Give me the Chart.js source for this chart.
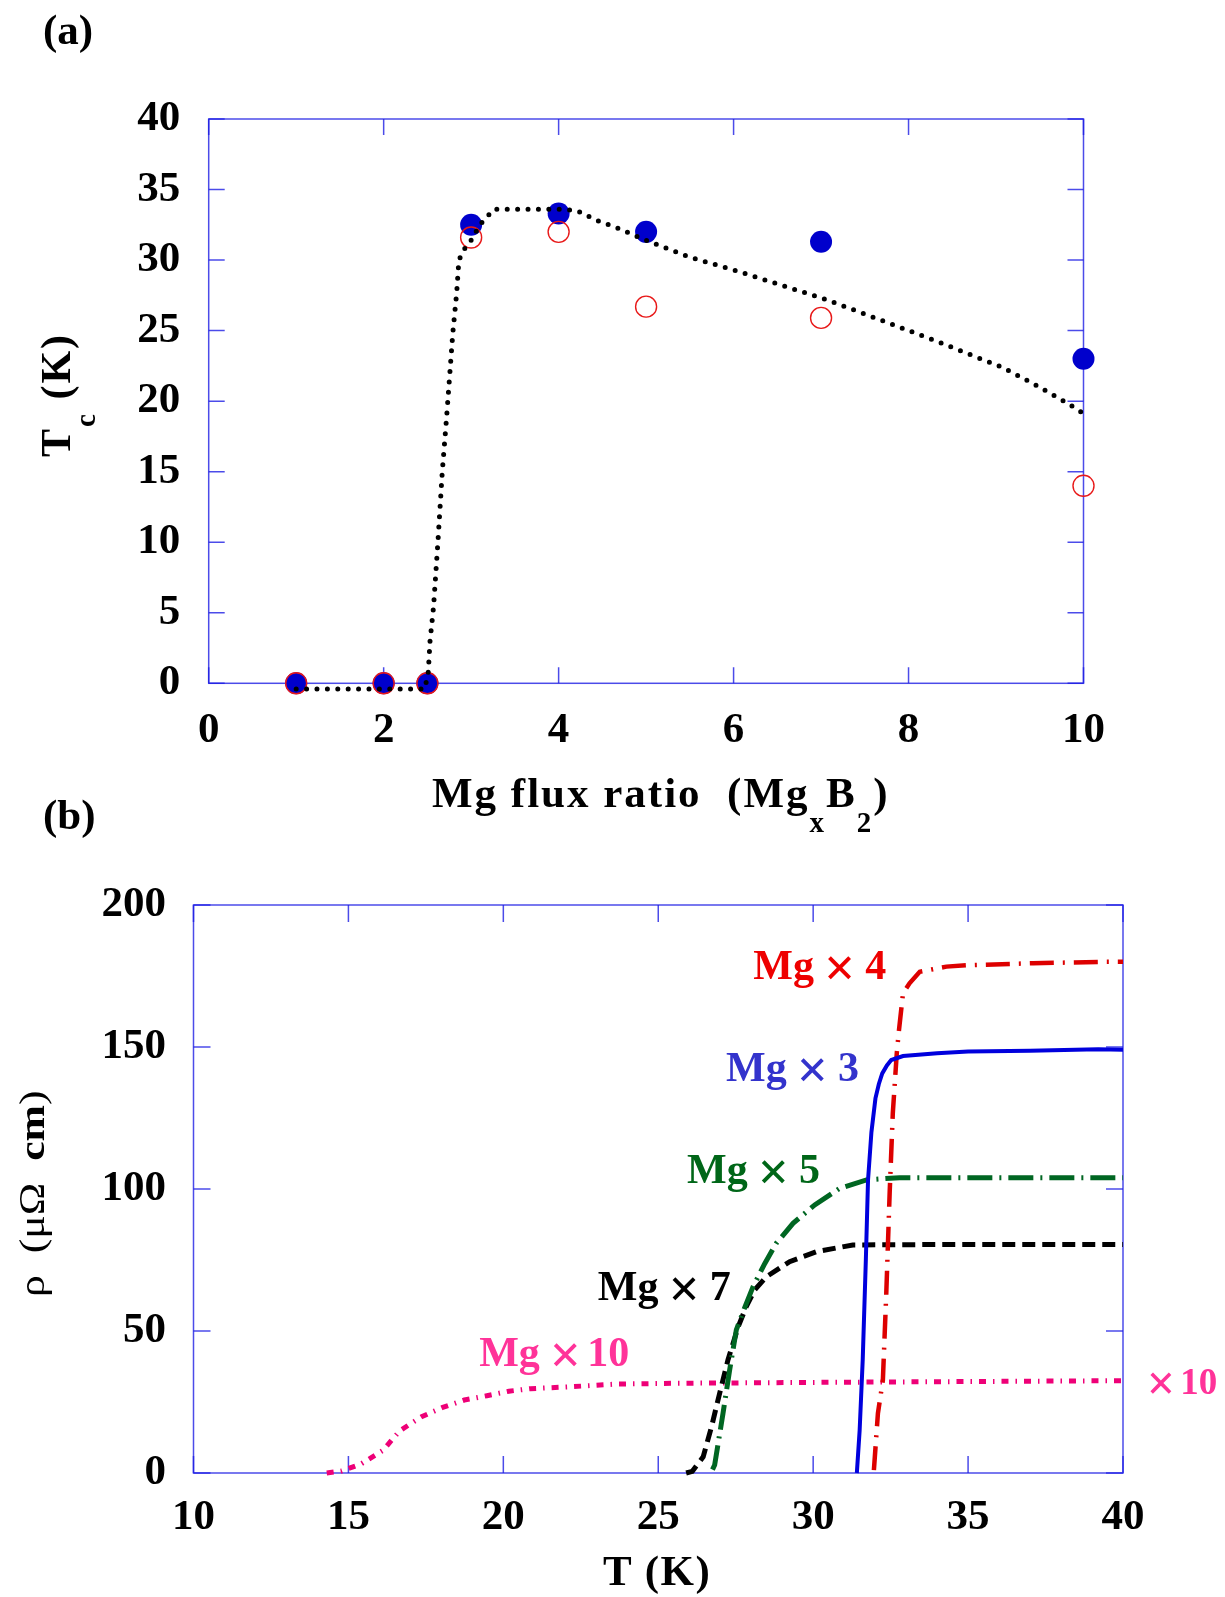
<!DOCTYPE html>
<html>
<head>
<meta charset="utf-8">
<title>MgB2: Tc vs Mg flux ratio, resistivity vs T</title>
<script src="https://cdn.jsdelivr.net/npm/chart.js@4.4.1/dist/chart.umd.min.js"></script>
<style>
  body { margin: 0; background: #fff; }
  #page { position: relative; width: 1225px; height: 1597px; overflow: hidden; font-family: "Liberation Serif", "Times New Roman", serif; color: #000; }
  canvas { position: absolute; left: 0; }
  #tcChart { top: 0; }
  #rhoChart { top: 840px; }
  .txt { position: absolute; white-space: pre; line-height: 1; font-weight: bold; }
  .rot { transform-origin: 0 0; }
  sub { font-size: 29px; vertical-align: -25px; line-height: 1; }
</style>
</head>
<body>
<div id="page">
  <canvas id="tcChart" width="1225" height="840"></canvas>
  <canvas id="rhoChart" width="1225" height="757"></canvas>

  <div class="txt" style="left:43px;top:8px;font-size:43px">(a)</div>
  <div class="txt" style="left:43px;top:793px;font-size:43px">(b)</div>

  <div class="txt" style="left:432px;top:771px;font-size:43px;letter-spacing:2px">Mg flux ratio  (Mg<sub>x</sub>B<sub>2</sub>)</div>
  <div class="txt rot" style="left:35px;top:457px;font-size:42px;letter-spacing:2px;transform:rotate(-90deg)">T<sub>c</sub> (K)</div>

  <div class="txt" style="left:603px;top:1549px;font-size:43px;letter-spacing:1.5px">T (K)</div>
  <div class="txt rot" style="left:15px;top:1297px;font-size:35px;font-weight:normal;transform:rotate(-90deg) scaleX(1.25)">ρ  (μΩ  <b>cm</b>)</div>
</div>

<script>
Chart.defaults.font.family = '"Liberation Serif", "Times New Roman", serif';
Chart.defaults.color = '#000';

// ---- panel (a): Tc against Mg flux ratio ----
const fluxRatio = [1, 2, 2.5, 3, 4, 5, 7, 10];
const tcOnset = [0, 0, 0, 32.5, 33.3, 32.0, 31.3, 23.0];
const tcZero = [0, 0, 0, 31.6, 32.0, 26.7, 25.9, 14.0];
// dotted guide to the eye
const guideRatio = [1, 2.47, 2.51, 2.53, 2.57, 2.62, 2.67, 2.72, 2.79, 2.835, 2.86, 2.925, 2.99, 3.1, 3.26,
  4.03, 4.21, 4.44, 4.66, 5.0, 5.5, 6.0, 7.06, 8.3, 9.07, 9.41, 9.83, 10.03];
const guideTc = [-0.4, -0.4, 0.8, 3, 5.4, 10, 15, 18.9, 24.8, 27.7, 30.0, 30.8, 31.3, 32.5, 33.6,
  33.6, 33.5, 32.8, 32.3, 31.4, 30.2, 29.3, 27.2, 24.3, 22.4, 21.3, 19.8, 19.0];
const fluxTicks = [0, 2, 4, 6, 8, 10];
const tcTicks = [0, 5, 10, 15, 20, 25, 30, 35, 40];

// ---- panel (b): resistivity against temperature ----
const tMg3 = [31.41, 31.5, 31.6, 31.7, 31.77, 31.88, 32.01, 32.12, 32.23, 32.38, 32.52, 32.9, 34.0, 35.0, 37.0, 39.2, 40.0];
const rhoMg3 = [0, 15, 40, 75, 103, 120, 131.9, 137, 140.7, 143.5, 145.4, 146.8, 147.8, 148.4, 148.7, 149.2, 149.0];

const tMg4 = [31.96, 32.09, 32.25, 32.36, 32.47, 32.57, 32.7, 32.77, 32.9, 33.11, 33.44, 34.3, 35.0, 37.1, 39.46, 40.0];
const rhoMg4 = [1, 21, 32.7, 63.3, 99, 126.6, 148, 156, 168.9, 172.4, 176.5, 178.3, 178.8, 179.5, 180, 180];

const tMg5 = [26.75, 26.82, 27.09, 27.3, 27.52, 27.8, 28.06, 28.44, 28.81, 29.35, 30.05, 30.85, 31.72, 32.79, 36.0, 40.0];
const rhoMg5 = [1.2, 2.8, 21, 36, 50.4, 58.5, 65.6, 73.8, 80.9, 87.9, 94.4, 100.2, 103.2, 104, 104, 104];

const tMg7 = [25.9, 26.1, 26.45, 26.72, 26.98, 27.25, 27.58, 27.84, 28.11, 28.49, 29.24, 30.1, 31.28, 35.0, 40.0];
const rhoMg7 = [0, 0.6, 5.7, 16.3, 28, 39.8, 51.5, 58.6, 64.4, 69.1, 74.4, 77.9, 80.3, 80.5, 80.5];

// Mg x10 sample is plotted multiplied by 10
const tMg10 = [14.3, 14.78, 15.41, 16.11, 16.66, 17.36, 18.02, 18.74, 19.47, 20.18, 20.88, 22.21, 23.62, 25.65, 30.0, 35.0, 40.0];
const rhoMg10 = [0, 0.7, 3.2, 7.9, 14.9, 19.8, 23, 25.7, 27.2, 28.8, 29.7, 30.4, 31.3, 31.6, 31.9, 32.2, 32.5];

const tempTicks = [10, 15, 20, 25, 30, 35, 40];
const rhoTicks = [0, 50, 100, 150, 200];

const pts = (xs, ys) => xs.map((x, i) => ({ x, y: ys[i] }));
const useTicks = list => scale => { scale.ticks = list.map(v => ({ value: v })); };

const AXIS_BLUE = 'rgba(30, 30, 228, 0.8)';
const tickFont = { size: 43, weight: 'bold' };

// box frame with inward ticks on all four sides
const boxAxes = {
  id: 'boxAxes',
  beforeDatasetsDraw(chart, args, opts) {
    const { ctx, chartArea: a, scales } = chart;
    ctx.save();
    ctx.strokeStyle = opts.color;
    ctx.lineWidth = opts.width;
    ctx.strokeRect(a.left, a.top, a.right - a.left, a.bottom - a.top);
    ctx.beginPath();
    for (const t of scales.x.ticks) {
      const px = scales.x.getPixelForValue(t.value);
      ctx.moveTo(px, a.bottom); ctx.lineTo(px, a.bottom - opts.tick);
      ctx.moveTo(px, a.top); ctx.lineTo(px, a.top + opts.tick);
    }
    for (const t of scales.y.ticks) {
      const py = scales.y.getPixelForValue(t.value);
      ctx.moveTo(a.left, py); ctx.lineTo(a.left + opts.tick, py);
      ctx.moveTo(a.right, py); ctx.lineTo(a.right - opts.tick, py);
    }
    ctx.stroke();
    ctx.restore();
  }
};

// sample names written next to each curve, anchored in data units;
// each part is [text, gap after, size factor, baseline drop]
const curveLabels = {
  id: 'curveLabels',
  afterDatasetsDraw(chart, args, opts) {
    const { ctx, scales: { x, y } } = chart;
    ctx.save();
    ctx.textBaseline = 'alphabetic';
    ctx.textAlign = 'left';
    for (const l of opts.items) {
      let px = x.getPixelForValue(l.x);
      const py = y.getPixelForValue(l.y);
      ctx.fillStyle = l.color;
      for (const [s, gap, k, dy] of l.parts) {
        ctx.font = `bold ${Math.round(l.size * (k || 1))}px "Liberation Serif"`;
        ctx.fillText(s, px, py + (dy || 0));
        px += ctx.measureText(s).width + gap;
      }
    }
    ctx.restore();
  }
};

function axisCfg(min, max, list, pad, extra) {
  return Object.assign({
    type: 'linear', min, max,
    afterBuildTicks: useTicks(list),
    grid: { display: false, drawTicks: false },
    border: { display: false },
    ticks: { font: tickFont, color: '#000', autoSkip: false, maxRotation: 0, padding: pad }
  }, extra);
}

new Chart(document.getElementById('tcChart'), {
  type: 'scatter',
  data: {
    datasets: [
      { data: pts(guideRatio, guideTc), showLine: true, borderColor: '#000', borderWidth: 5,
        borderDash: [0, 10.4], borderCapStyle: 'round', pointRadius: 0, tension: 0, order: 0, clip: false },
      { data: pts(fluxRatio, tcZero), showLine: false, pointRadius: 10.5, pointBorderWidth: 1.4,
        pointBorderColor: '#e81818', pointBackgroundColor: 'rgba(0,0,0,0)', order: 1, clip: false },
      { data: pts(fluxRatio, tcOnset), showLine: false, pointRadius: 11, pointBorderWidth: 0,
        pointBorderColor: '#0000cc', pointBackgroundColor: '#0000cc', order: 2, clip: false }
    ]
  },
  options: {
    responsive: false, animation: false, events: [],
    layout: { padding: { left: 0, right: 141.5, top: 119, bottom: 0 } },
    plugins: { legend: { display: false }, tooltip: { enabled: false },
      boxAxes: { color: AXIS_BLUE, width: 1.5, tick: 16 } },
    scales: {
      x: axisCfg(0, 10, fluxTicks, 22, { afterFit: s => { s.height = 840 - 683.3; } }),
      y: axisCfg(0, 40, tcTicks, 28.5, { afterFit: s => { s.width = 208.7; } })
    }
  },
  plugins: [boxAxes]
});

const line = (xs, ys, color, width, dash, order) => ({
  data: pts(xs, ys), showLine: true, borderColor: color, borderWidth: width, borderDash: dash,
  borderCapStyle: 'butt', pointRadius: 0, tension: 0, order, clip: false
});

const times = (gap) => ['×', gap, 1.3, 7];

new Chart(document.getElementById('rhoChart'), {
  type: 'scatter',
  data: {
    datasets: [
      line(tMg3, rhoMg3, '#0000dd', 4, [], 0),
      line(tMg4, rhoMg4, '#dd0000', 4.5, [24, 9, 2, 9], 1),
      line(tMg5, rhoMg5, '#006622', 5, [25, 7, 2, 7], 2),
      line(tMg7, rhoMg7, '#000000', 5, [13, 7], 3),
      line(tMg10, rhoMg10, '#ee0077', 5, [7, 7, 1.5, 7], 4)
    ]
  },
  options: {
    responsive: false, animation: false, events: [],
    layout: { padding: { left: 0, right: 102, top: 65, bottom: 0 } },
    plugins: { legend: { display: false }, tooltip: { enabled: false },
      boxAxes: { color: AXIS_BLUE, width: 1.5, tick: 17 },
      curveLabels: { items: [
        { x: 28.07, y: 173.8, size: 42, color: '#ee0000', parts: [['Mg', 10], times(10), ['4', 0]] },
        { x: 27.19, y: 138.0, size: 42, color: '#3333cc', parts: [['Mg', 10], times(10), ['3', 0]] },
        { x: 25.93, y: 102.0, size: 42, color: '#006618', parts: [['Mg', 10], times(10), ['5', 0]] },
        { x: 23.05, y: 60.9, size: 42, color: '#000000', parts: [['Mg', 10], times(10), ['7', 0]] },
        { x: 19.22, y: 37.7, size: 42, color: '#ff3399', parts: [['Mg', 10], times(6), ['10', 0]] },
        { x: 40.77, y: 27.7, size: 37, color: '#ff3399', parts: [['×', 5, 1.35, 6], ['10', 0]] }
      ] } },
    scales: {
      x: axisCfg(10, 40, tempTicks, 19, { afterFit: s => { s.height = 757 - 633; } }),
      y: axisCfg(0, 200, rhoTicks, 27.5, { afterFit: s => { s.width = 193.5; } })
    }
  },
  plugins: [boxAxes, curveLabels]
});
</script>
</body>
</html>
